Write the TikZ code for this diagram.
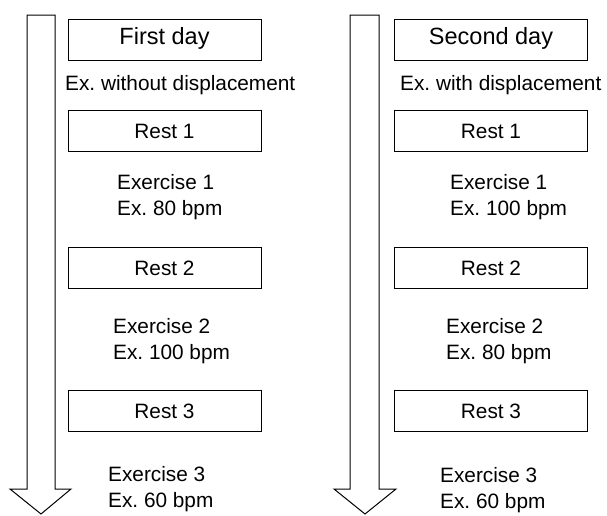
\documentclass[tikz,border=0pt]{standalone}
\usepackage{fontspec}
\setmainfont{Liberation Sans}
\frenchspacing
\begin{document}
\begin{tikzpicture}[x=1pt,y=-1pt,
  flow/.style={draw=black,line width=1pt,line join=miter,fill=white},
  titlebox/.style={draw=black,line width=1pt,minimum width=193pt,minimum height=41pt,inner sep=0pt,
    text height=12pt,text depth=2.4pt,font=\fontsize{23.5}{28}\selectfont},
  restbox/.style={draw=black,line width=1pt,minimum width=193pt,minimum height=41pt,inner sep=0pt,
    text height=16pt,text depth=0pt,font=\fontsize{20.8}{25}\selectfont},
  subtitle/.style={anchor=base west,inner sep=0pt,font=\fontsize{20.8}{25}\selectfont},
  exer/.style={anchor=north west,inner sep=0pt,align=left,font=\fontsize{20.8}{25.5}\selectfont}]
\useasboundingbox (0,0) rectangle (607,515);
% arrows
\draw[flow] (27,15) -- (55,15) -- (55,489) -- (71,489) -- (41,514) -- (10,489) -- (27,489) -- cycle;
\draw[flow] (350,15) -- (379,15) -- (379,489) -- (396,489) -- (365,514) -- (334,489) -- (350,489) -- cycle;
% left column
\node[titlebox] (t1) at (164.5,39.5) {First day};
\node[subtitle] (s1) at (65,90) {Ex. without displacement};
\node[restbox] (r11) at (164.5,130.5) {Rest 1};
\node[exer] (e11) at (117,174.3) {Exercise 1\\Ex. 80 bpm};
\node[restbox] (r12) at (164.5,267.5) {Rest 2};
\node[exer] (e12) at (113,318.3) {Exercise 2\\Ex. 100 bpm};
\node[restbox] (r13) at (164.5,410.5) {Rest 3};
\node[exer] (e13) at (108,466.7) {Exercise 3\\Ex. 60 bpm};
% right column
\node[titlebox] (t2) at (491,39.5) {Second day};
\node[subtitle] (s2) at (400,90) {Ex. with displacement};
\node[restbox] (r21) at (491,130.5) {Rest 1};
\node[exer] (e21) at (450,174.3) {Exercise 1\\Ex. 100 bpm};
\node[restbox] (r22) at (491,267.5) {Rest 2};
\node[exer] (e22) at (446,318.3) {Exercise 2\\Ex. 80 bpm};
\node[restbox] (r23) at (491,410.5) {Rest 3};
\node[exer] (e23) at (440,467.7) {Exercise 3\\Ex. 60 bpm};
\end{tikzpicture}
\end{document}
